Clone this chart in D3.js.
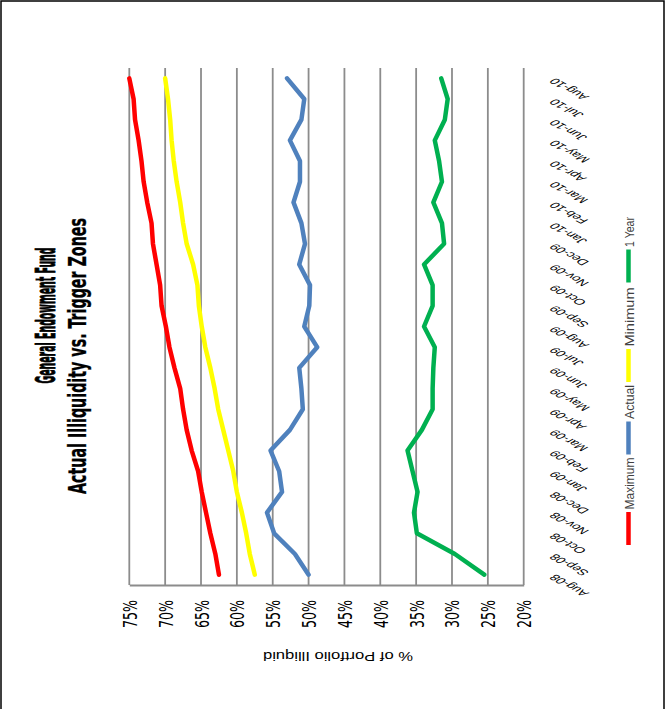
<!DOCTYPE html>
<html>
<head>
<meta charset="utf-8">
<script src="https://cdn.jsdelivr.net/npm/d3@7"></script>
<style>
  html, body { margin: 0; padding: 0; background: #fff; }
  svg { display: block; }
</style>
</head>
<body>
<script>
// ---------- data ----------
const months = ["Aug-08","Sep-08","Oct-08","Nov-08","Dec-08","Jan-09","Feb-09","Mar-09","Apr-09","May-09","Jun-09","Jul-09",
  "Aug-09","Sep-09","Oct-09","Nov-09","Dec-09","Jan-10","Feb-10","Mar-10","Apr-10","May-10","Jun-10","Jul-10","Aug-10"];
const maximum = [62.5,63.0,63.7,64.3,64.9,65.4,66.3,67.0,67.5,67.9,68.7,69.4,69.9,70.5,70.7,71.2,71.7,71.9,72.5,73.0,73.3,73.7,74.2,74.4,75.0];
const actual  = [50.0,51.9,54.8,55.8,53.7,54.1,55.3,52.6,50.8,51.0,51.3,48.8,50.6,49.9,49.8,51.3,50.5,51.0,52.1,51.2,51.2,52.6,51.0,50.6,53.0];
const minimum = [57.5,58.2,58.7,59.3,60.0,60.5,61.2,61.9,62.6,63.1,63.7,64.4,64.9,65.3,65.5,66.1,67.0,67.5,67.9,68.4,68.8,69.1,69.3,69.6,70.0];
const oneYear = [25.5,29.6,34.9,35.3,34.8,35.5,36.2,34.2,32.7,32.7,32.6,32.4,33.9,32.7,32.7,33.9,31.1,31.4,32.6,31.4,31.8,32.4,31.0,30.6,31.5];
const valueTicks = [75,70,65,60,55,50,45,40,35,30,25,20];
const seriesNames = ["Maximum","Actual","Minimum","1 Year"];
const seriesColors = ["#ff0000","#4f81bd","#ffff00","#00b050"];
const titleLines = ["General Endowment Fund","Actual Illiquidity vs. Trigger Zones"];
const axisTitle = "% of Portfolio Illiquid";

const series = [maximum, actual, minimum, oneYear].map((vals, i) => ({
  name: seriesNames[i], color: seriesColors[i], values: vals
}));

// ---------- layout ----------
const W = 666, H = 709;
const plot = { left: 129.3, right: 523.7, top: 68, bottom: 585 };
const narrow = "'Liberation Sans Narrow','Arial Narrow','DejaVu Sans Condensed',sans-serif";
const sans = "'Liberation Sans',Arial,sans-serif";

const svg = d3.select("body").append("svg").attr("width", W).attr("height", H);

// border (open at the bottom)
svg.append("path")
  .attr("d", `M1,${H} V1 H664 V${H}`)
  .attr("fill", "none").attr("stroke", "#000").attr("stroke-width", 1.5);

const x = d3.scaleLinear().domain([75, 20]).range([plot.left, plot.right]);
const y = d3.scaleBand().domain(months).range([plot.bottom, plot.top]);
const yc = m => y(m) + y.bandwidth() / 2;

// gridlines
svg.append("g").selectAll("line").data(valueTicks).join("line")
  .attr("x1", d => x(d)).attr("x2", d => x(d))
  .attr("y1", plot.top).attr("y2", plot.bottom)
  .attr("stroke", "#8c8c8c").attr("stroke-width", 1.8);

// value axis (bottom)
const gx = svg.append("g").attr("transform", `translate(0,${plot.bottom})`)
  .call(d3.axisBottom(x).tickValues(valueTicks).tickFormat(d => d + "%").tickSize(0).tickSizeOuter(0));
gx.select(".domain").attr("stroke", "#8c8c8c").attr("stroke-width", 1.8);
gx.selectAll(".tick text")
  .attr("y", null).attr("dy", null)
  .attr("transform", "translate(0,29) rotate(-90)")
  .attr("text-anchor", "middle").attr("dominant-baseline", "central")
  .attr("font-family", narrow).attr("font-size", 20).attr("fill", "#000")
  .attr("textLength", 28).attr("lengthAdjust", "spacingAndGlyphs");

// category axis (right)
const gy = svg.append("g").attr("transform", `translate(${plot.right},0)`)
  .call(d3.axisRight(y).tickSize(0).tickSizeOuter(0));
gy.select(".domain").remove();
gy.selectAll(".tick text")
  .attr("x", null).attr("dy", null)
  .attr("transform", "translate(29,1) scale(1,0.55) rotate(225)")
  .attr("text-anchor", "end").attr("dominant-baseline", "middle")
  .attr("font-family", sans).attr("font-size", 15).attr("fill", "#000");

// lines
const line = d3.line().x(d => x(d.v)).y(d => yc(d.m));
svg.append("g").selectAll("path").data(series).join("path")
  .attr("d", s => line(s.values.map((v, i) => ({ v, m: months[i] }))))
  .attr("fill", "none").attr("stroke", s => s.color).attr("stroke-width", 4.5)
  .attr("stroke-linejoin", "round").attr("stroke-linecap", "round");

// axis title (upside down)
svg.append("text")
  .attr("transform", "translate(338,656) rotate(180)")
  .attr("text-anchor", "middle").attr("dominant-baseline", "central")
  .attr("font-family", sans).attr("font-size", 13)
  .attr("textLength", 150).attr("lengthAdjust", "spacingAndGlyphs")
  .text(axisTitle);

// chart title
const titlePos = [{ x: 55, y: 315.5, len: 136, size: 26, sw: 0.9 }, { x: 86, y: 356, len: 276, size: 24, sw: 0.3 }];
svg.append("g").selectAll("text").data(titleLines).join("text")
  .attr("transform", (d, i) => `translate(${titlePos[i].x},${titlePos[i].y}) rotate(-90)`)
  .attr("text-anchor", "middle")
  .attr("font-family", narrow).attr("font-weight", "bold")
  .attr("font-size", (d, i) => titlePos[i].size)
  .attr("stroke", "#000").attr("stroke-width", (d, i) => titlePos[i].sw)
  .attr("textLength", (d, i) => titlePos[i].len).attr("lengthAdjust", "spacingAndGlyphs")
  .text(d => d);

// legend (vertical, reading bottom to top)
const legendTextLen = [52, 34, 59, 30];
const legendStart = 545, lineLen = 33, gapAfterLine = 2.5, itemGap = [3, 3, 5];
const lg = svg.append("g");
let cursor = legendStart;
series.forEach((s, i) => {
  lg.append("line")
    .attr("x1", 628.5).attr("x2", 628.5)
    .attr("y1", cursor).attr("y2", cursor - lineLen)
    .attr("stroke", s.color).attr("stroke-width", 4.5).attr("stroke-linecap", "butt");
  cursor -= lineLen + gapAfterLine;
  lg.append("text")
    .attr("transform", `translate(630,${cursor}) rotate(-90)`)
    .attr("dominant-baseline", "central")
    .attr("font-family", sans).attr("font-size", 12).attr("fill", "#404040")
    .attr("textLength", legendTextLen[i]).attr("lengthAdjust", "spacingAndGlyphs")
    .text(s.name);
  cursor -= legendTextLen[i] + (itemGap[i] || 0);
});
</script>
</body>
</html>
